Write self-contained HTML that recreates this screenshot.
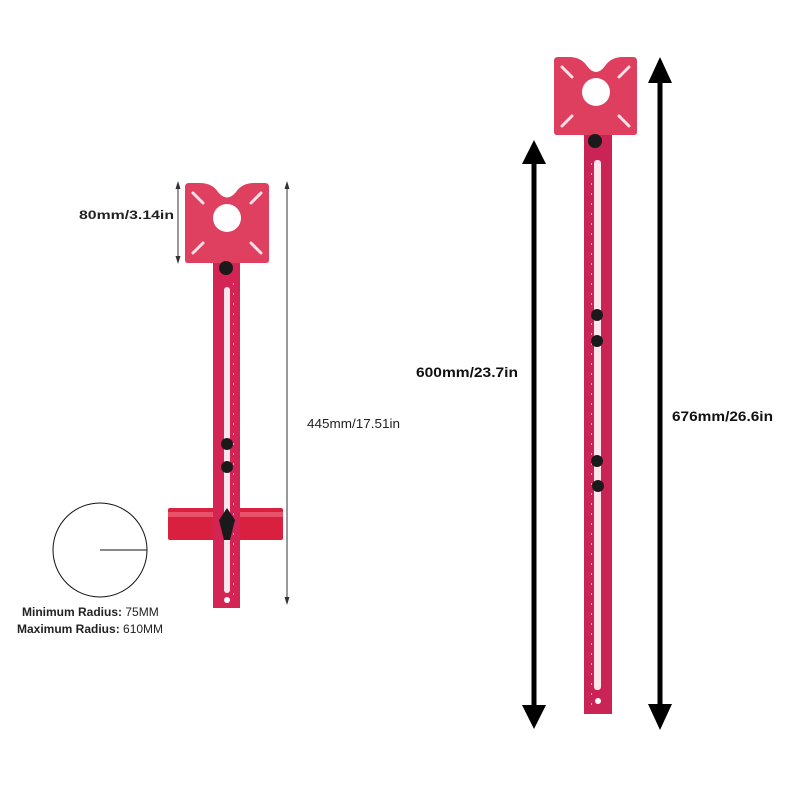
<!DOCTYPE html>
<html><head><meta charset="utf-8"><style>
html,body{margin:0;padding:0;background:#fff;width:800px;height:800px;overflow:hidden}
text{font-family:"Liberation Sans","DejaVu Sans",sans-serif}
</style></head><body>
<svg width="800" height="800" viewBox="0 0 800 800" xmlns="http://www.w3.org/2000/svg">
<defs>
<pattern id="dots" x="0" y="0" width="10" height="10" patternUnits="userSpaceOnUse">
<rect x="1" y="3" width="3" height="2" fill="#f59ab5"/>
</pattern>
</defs>
<!-- LEFT TOOL -->
<g>
<rect x="168" y="508" width="115" height="32" rx="2" fill="#d9203f"/>
<rect x="168" y="512" width="115" height="5" fill="#e8516a"/>
<rect x="213" y="258" width="27" height="350" fill="#d42455"/>
<rect x="215" y="280" width="6" height="320" fill="url(#dots)"/>
<rect x="233" y="280" width="6" height="320" fill="url(#dots)"/>
<rect x="224" y="287" width="6" height="306" rx="3" fill="#fbe6ec"/>
<circle cx="227" cy="600" r="3" fill="#fff"/>
<path d="M185 187 Q185 183 189 183 L200 183 Q212 183 218 192 Q227 203 236 192 Q242 183 254 183 L265 183 Q269 183 269 187 L269 260 Q269 263 266 263 L188 263 Q185 263 185 260 Z" fill="#e0405f"/>
<circle cx="227" cy="218" r="14" fill="#fff"/>
<g stroke="#fbe0e8" stroke-width="3" stroke-linecap="round">
<line x1="193" y1="193" x2="203" y2="203"/><line x1="261" y1="193" x2="251" y2="203"/>
<line x1="193" y1="253" x2="203" y2="243"/><line x1="261" y1="253" x2="251" y2="243"/>
</g>
<circle cx="226" cy="268" r="7" fill="#1a1a1a"/>
<circle cx="227" cy="444" r="6" fill="#1a1a1a"/>
<circle cx="227" cy="467" r="6" fill="#1a1a1a"/>
<path d="M227 508 L235 520 L230 540 L224 540 L219 520 Z" fill="#1a1a1a"/>
</g>
<g stroke="#333" stroke-width="1">
<line x1="178" y1="186" x2="178" y2="259"/>
<line x1="287" y1="186" x2="287" y2="600"/>
</g>
<path d="M175.5 189 L178 181 L180.5 189 Z M175.5 256 L178 264 L180.5 256 Z M284.5 189 L287 181 L289.5 189 Z M284.5 597 L287 605 L289.5 597 Z" fill="#333"/>
<text x="79" y="219" font-size="12" font-weight="bold" fill="#222" textLength="95" lengthAdjust="spacingAndGlyphs">80mm/3.14in</text>
<text x="307" y="428" font-size="13" fill="#222" textLength="93" lengthAdjust="spacingAndGlyphs">445mm/17.51in</text>
<circle cx="100" cy="550" r="47" fill="none" stroke="#111" stroke-width="1"/>
<line x1="100" y1="550" x2="147" y2="550" stroke="#111" stroke-width="1"/>
<text x="22" y="616" font-size="12" font-weight="bold" fill="#222">Minimum Radius: <tspan font-weight="normal">75MM</tspan></text>
<text x="17" y="633" font-size="12" font-weight="bold" fill="#222">Maximum Radius: <tspan font-weight="normal">610MM</tspan></text>
<!-- RIGHT TOOL -->
<g>
<rect x="584" y="130" width="28" height="584" fill="#c92455"/>
<rect x="586" y="160" width="6" height="545" fill="url(#dots)"/>
<rect x="604" y="160" width="6" height="545" fill="url(#dots)"/>
<rect x="594" y="160" width="7" height="530" rx="3" fill="#fbe6ec"/>
<circle cx="598" cy="701" r="3" fill="#fff"/>
<path d="M554 61 Q554 57 558 57 L569 57 Q581 57 587 66 Q596 78 605 66 Q611 57 623 57 L633 57 Q637 57 637 61 L637 132 Q637 135 634 135 L557 135 Q554 135 554 132 Z" fill="#de3f5e"/>
<circle cx="596" cy="92" r="14" fill="#fff"/>
<g stroke="#fbe0e8" stroke-width="3" stroke-linecap="round">
<line x1="562" y1="67" x2="572" y2="77"/><line x1="629" y1="67" x2="619" y2="77"/>
<line x1="562" y1="126" x2="572" y2="116"/><line x1="629" y1="126" x2="619" y2="116"/>
</g>
<circle cx="595" cy="141" r="7" fill="#1a1a1a"/>
<circle cx="597" cy="315" r="6" fill="#1a1a1a"/>
<circle cx="597" cy="341" r="6" fill="#1a1a1a"/>
<circle cx="597" cy="461" r="6" fill="#1a1a1a"/>
<circle cx="598" cy="486" r="6" fill="#1a1a1a"/>
</g>
<rect x="531.5" y="160" width="5" height="550" fill="#000"/>
<path d="M522 164 L534 140 L546 164 Z M522 705 L534 729 L546 705 Z" fill="#000"/>
<rect x="657.5" y="80" width="5" height="630" fill="#000"/>
<path d="M648 83 L660 57 L672 83 Z M648 704 L660 730 L672 704 Z" fill="#000"/>
<text x="416" y="377" font-size="14" font-weight="bold" fill="#111" textLength="102" lengthAdjust="spacingAndGlyphs">600mm/23.7in</text>
<text x="672" y="421" font-size="14" font-weight="bold" fill="#111" textLength="101" lengthAdjust="spacingAndGlyphs">676mm/26.6in</text>
</svg>
</body></html>
